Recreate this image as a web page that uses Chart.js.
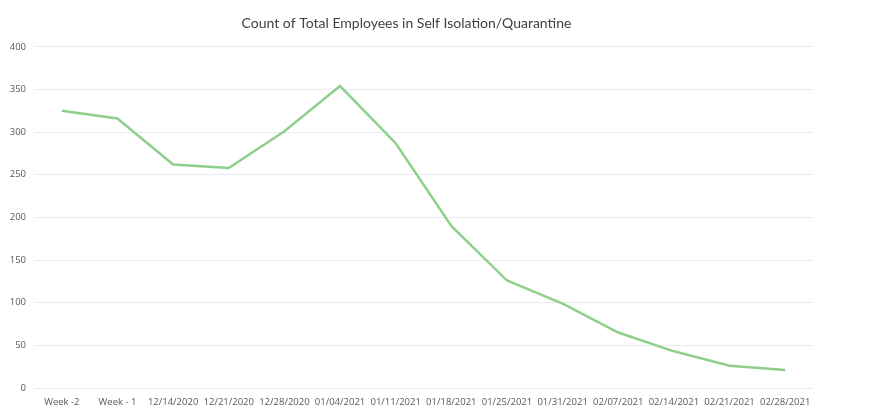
<!DOCTYPE html>
<html>
<head>
<meta charset="utf-8">
<script src="https://cdn.jsdelivr.net/npm/chart.js@4/dist/chart.umd.min.js"></script>
<style>
  html, body { margin: 0; padding: 0; background: #fff; }
  #wrap { width: 875px; height: 420px; }
</style>
</head>
<body>
<div id="wrap"><canvas id="myChart" width="875" height="420"></canvas></div>
<script>
var weeks = ['Week -2', 'Week - 1', '12/14/2020', '12/21/2020', '12/28/2020', '01/04/2021', '01/11/2021',
             '01/18/2021', '01/25/2021', '01/31/2021', '02/07/2021', '02/14/2021', '02/21/2021', '02/28/2021'];
var employees = [325, 316, 262, 258, 301, 354, 287, 190, 126, 99, 65, 43, 26, 21];
var yTicks = [0, 50, 100, 150, 200, 250, 300, 350, 400];

var ctx = document.getElementById('myChart').getContext('2d');
var myChart = new Chart(ctx, {
    type: 'line',
    data: {
        labels: weeks,
        datasets: [{
            label: 'Count',
            data: employees,
            borderColor: '#8fcf8c',
            borderWidth: 2.5,
            pointRadius: 0,
            tension: 0,
            fill: false
        }]
    },
    options: {
        responsive: false,
        animation: false,
        layout: { padding: { left: 0, right: 62, top: 0, bottom: 0 } },
        plugins: {
            legend: { display: false },
            tooltip: { enabled: false },
            title: {
                display: true,
                text: 'Count of Total Employees in Self Isolation/Quarantine',
                color: '#404040',
                font: { family: 'Lato', size: 14, weight: 'normal' },
                padding: { top: 15, bottom: 15 }
            }
        },
        scales: {
            x: {
                offset: true,
                grid: { display: false },
                border: { display: false },
                ticks: { color: '#595959', font: { family: 'Open Sans', size: 9.5 }, maxRotation: 0, autoSkip: false, padding: 1 },
                afterFit: function(axis) { axis.height = 32; }
            },
            y: {
                min: 0,
                max: 400,
                afterBuildTicks: function(axis) { axis.ticks = yTicks.map(v => ({ value: v })); },
                grid: { color: '#e8ebf2', lineWidth: 1, drawTicks: false },
                border: { display: false },
                ticks: { color: '#595959', font: { family: 'Open Sans', size: 9.5 }, padding: 8 },
                afterFit: function(axis) { axis.width = 34; }
            }
        }
    }
});
</script>
</body>
</html>
